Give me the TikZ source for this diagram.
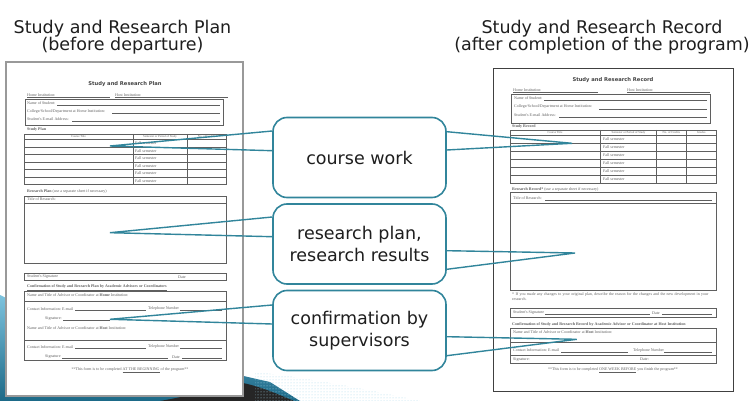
\documentclass[tikz,border=0pt]{standalone}
\usepackage{fontspec}
\setmainfont{DejaVu Sans}
\newfontfamily\formfont{Liberation Serif}
\usetikzlibrary{patterns}
\definecolor{bubbleteal}{RGB}{49,133,155}
\definecolor{labelgray}{RGB}{30,30,30}
\definecolor{formgray}{RGB}{95,95,95}
\definecolor{swlight}{RGB}{125,195,222}
\definecolor{swdark}{RGB}{28,105,135}
\newcommand{\ftext}{\fontsize{4}{4.3}\selectfont\formfont}

\begin{document}
\begin{tikzpicture}[x=1pt,y=-1pt]
  \tikzstyle{headline}=[font=\fontsize{17.5}{17.5}\selectfont, text=labelgray, anchor=base, inner sep=0]
  \tikzstyle{bubble}=[draw=bubbleteal, line width=1.6pt, rounded corners=14pt, fill=white, minimum width=173pt, minimum height=80pt, align=center, text=labelgray, font=\fontsize{17.5}{22}\selectfont]
  \tikzstyle{pointer}=[draw=bubbleteal, line width=1.4pt]
  \tikzstyle{sheet}=[fill=white]
  \tikzstyle{fbox}=[draw=formgray, line width=0.8pt]
  \tikzstyle{fline}=[draw=formgray, line width=0.5pt]
  \tikzstyle{flabel}=[anchor=west, inner sep=0, text=formgray, font=\ftext]
  \tikzstyle{fcell}=[inner sep=0, text=formgray, font=\fontsize{3}{3}\selectfont\formfont]
  \tikzstyle{fhead}=[inner sep=0, text=formgray!70!black, font=\fontsize{5.2}{5.2}\selectfont\bfseries]
  \tikzstyle{ftail}=[inner sep=0, text=formgray, font=\ftext]
  \useasboundingbox (0,0) rectangle (756,401);

  \shade[top color=swlight, bottom color=swdark] (0,295) .. controls (80,335) and (180,362) .. (270,382) -- (300,401) -- (0,401) -- cycle;
  \fill[black!85] (160,401) .. controls (205,393) and (228,385) .. (243,383) .. controls (262,387) and (280,395) .. (294,401) -- cycle;
  \fill[pattern=dots, pattern color=swlight!70] (255,372) .. controls (310,378) and (370,390) .. (420,401) -- (255,401) -- cycle;

  \node[headline] (plantitle) at (122.5,33.3) {Study and Research Plan};
  \node[headline] (plansub) at (122.5,50.7) {(before departure)};
  \node[headline] (recordtitle) at (602,33.3) {Study and Research Record};
  \node[headline] (recordsub) at (602,50.7) {(after completion of the program)};

  \draw[sheet, draw=gray!80, line width=1.5pt] (6,62) rectangle (243,396);
  \node[fhead] (planform) at (125,84) {Study and Research Plan};
  \node[flabel] at (27,95) {Home Institution:};
  \node[flabel] at (115,95) {Host Institution:};
  \draw[fline] (27,97.3) -- (110,97.3) (115,97.3) -- (228,97.3);
  \draw[fbox] (25,99) rectangle (223,125);
  \node[flabel] at (27,103.5) {Name of Student:};
  \node[flabel] at (27,111.5) {College/School/Department at Home Institution:};
  \node[flabel] at (27,119.5) {Student's E-mail Address:};
  \draw[fline] (57,105.5) -- (220,105.5) (112,113.5) -- (220,113.5) (72,121.5) -- (220,121.5);
  \node[flabel] at (27,130) {\textbf{Study Plan}};
  \draw[fbox] (24,134) rectangle (226,184.5);
  \draw[fline] (133,134) -- (133,184.5) (187,134) -- (187,184.5);
  \foreach \ry in {139.5,147,154.5,162,169.5,177} \draw[fline] (24,\ry) -- (226,\ry);
  \node[fcell] at (78.5,136.8) {Course Title};
  \node[fcell] at (160,136.8) {Semester or Period of Study};
  \node[fcell] at (206.5,136.8) {No. of Credits};
  \foreach \ry in {143.2,150.7,158.2,165.7,173.2,180.7} \node[flabel] at (135,\ry) {Fall semester};
  \node[flabel] at (27,192) {\textbf{Research Plan} (use a separate sheet if necessary)};
  \draw[fbox] (24,196) rectangle (226,263);
  \node[flabel] at (27,199.3) {Title of Research:};
  \draw[fbox] (24,203) -- (226,203);
  \draw[fbox] (24,273) rectangle (226,280.5);
  \node[flabel] at (27,277) {Student's Signature};
  \node[flabel] at (178,277) {Date};
  \node[flabel] at (27,288) {\textbf{\underline{Confirmation of Study and Research Plan by Academic Advisors or Coordinators}}};
  \draw[fbox] (24,291.5) rectangle (226,360);
  \node[flabel] at (27,295.5) {Name and Title of Advisor or Coordinator at \textbf{Home} Institution:};
  \draw[fline] (24,301.5) -- (226,301.5);
  \node[flabel] at (27,309) {Contact Information: E-mail};
  \node[flabel] at (148,309) {Telephone Number};
  \draw[fline] (75,310.5) -- (146,310.5) (180,310.5) -- (222,310.5);
  \node[flabel] at (45,319) {Signature:};
  \draw[fline] (63,320.5) -- (110,320.5);
  \node[flabel] at (27,328) {Name and Title of Advisor or Coordinator at \textbf{Host} Institution:};
  \draw[fline] (24,340) -- (226,340);
  \node[flabel] at (27,347) {Contact Information: E-mail};
  \node[flabel] at (148,347) {Telephone Number};
  \draw[fline] (75,348.5) -- (146,348.5) (180,348.5) -- (222,348.5);
  \node[flabel] at (45,357) {Signature};
  \node[flabel] at (172,357) {Date};
  \draw[fline] (62,358.5) -- (168,358.5) (182,358.5) -- (222,358.5);
  \node[ftail] at (130,370) {**This form is to be completed \underline{AT THE BEGINNING} of the program**};

  \draw[sheet, draw=gray!50!black, line width=0.8pt] (493,68) rectangle (733,391);
  \node[fhead] (recordform) at (613,80) {Study and Research Record};
  \node[flabel] at (513,90.5) {Home Institution:};
  \node[flabel] at (627,90.5) {Host Institution:};
  \draw[fline] (513,92.5) -- (598,92.5) (627,92.5) -- (710,92.5);
  \draw[fbox] (511.5,94) rectangle (710,123.5);
  \node[flabel] at (514,98.5) {Name of Student:};
  \node[flabel] at (514,107) {College/School/Department at Home Institution:};
  \node[flabel] at (514,115.5) {Student's E-mail Address:};
  \draw[fline] (544,100.5) -- (707,100.5) (599,109) -- (707,109) (559,117.5) -- (707,117.5);
  \node[flabel] at (512,127) {\textbf{Study Record}};
  \draw[fbox] (510,130) rectangle (716.5,183);
  \draw[fline] (600.5,130) -- (600.5,183) (656.5,130) -- (656.5,183) (686,130) -- (686,183);
  \foreach \ry in {135,143,151,159,167,175} \draw[fline] (510,\ry) -- (716.5,\ry);
  \node[fcell] at (555,132.5) {Course Title};
  \node[fcell] at (628.5,132.5) {Semester or Period of Study};
  \node[fcell] at (671.3,132.5) {No. of Credits};
  \node[fcell] at (701.3,132.5) {Grades};
  \foreach \ry in {139,147,155,163,171,179} \node[flabel] at (603,\ry) {Fall semester};
  \node[flabel] at (512,190) {\textbf{Research Record*} (use a separate sheet if necessary)};
  \draw[fbox] (510,192.5) rectangle (716.5,290);
  \node[flabel] at (513,198.5) {Title of Research:};
  \draw[fline] (545,200.5) -- (712,200.5);
  \draw[fbox] (510,203.3) -- (716.5,203.3);
  \node[flabel, text width=201pt, align=left] at (512,296.5) {* If you made any changes to your original plan, describe the reason for the changes and the new development in your research.};
  \draw[fbox] (510,308) rectangle (716.5,317.5);
  \node[flabel] at (513,313) {Student's Signature};
  \node[flabel] at (652,313) {Date};
  \draw[fline] (545,314.5) -- (650,314.5) (662,314.5) -- (712,314.5);
  \node[flabel] at (512,325.5) {\textbf{\underline{Confirmation of Study and Research Record by Academic Advisor or Coordinator at Host Institution}}};
  \draw[fbox] (510,328.5) rectangle (716.5,363.5);
  \node[flabel] at (513,332) {Name and Title of Advisor or Coordinator at \textbf{Host} Institution:};
  \draw[fline] (510,342.7) -- (716.5,342.7);
  \node[flabel] at (513,350.5) {Contact Information: E-mail};
  \node[flabel] at (633,350.5) {Telephone Number};
  \draw[fline] (561,352) -- (628,352) (664,352) -- (712,352);
  \draw[fline] (510,355) -- (716.5,355);
  \node[flabel] at (513,359.5) {Signature:};
  \node[flabel] at (640,359.5) {Date:};
  \node[ftail] at (613,370) {**This form is to be completed \underline{ONE WEEK BEFORE} you finish the program**};

  \node[bubble] (coursework) at (359.5,157.5) {course work};
  \node[bubble] (research) at (359.5,244) {research plan,\\research results};
  \node[bubble] (confirm) at (359.5,330.5) {confirmation by\\supervisors};

  \coordinate (plancw) at (110,146);
  \coordinate (reccw) at (572,143.3);
  \coordinate (planrp) at (110,232.7);
  \coordinate (recrp) at (575,253);
  \coordinate (plancf) at (110,319.3);
  \coordinate (reccf) at (576.7,339.3);

  \draw[pointer] ([yshift=26.5pt]coursework.west) -- (plancw) -- ([yshift=6.8pt]coursework.west);
  \draw[pointer] ([yshift=25.8pt]coursework.east) -- (reccw) -- ([yshift=7.5pt]coursework.east);
  \draw[pointer] ([yshift=27pt]research.west) -- (planrp) -- ([yshift=7.3pt]research.west);
  \draw[pointer] ([yshift=-6.7pt]research.east) -- (recrp) -- ([yshift=-25.3pt]research.east);
  \draw[pointer] ([yshift=25.5pt]confirm.west) -- (plancf) -- ([yshift=6.5pt]confirm.west);
  \draw[pointer] ([yshift=-6.2pt]confirm.east) -- (reccf) -- ([yshift=-25.2pt]confirm.east);
\end{tikzpicture}
\end{document}
